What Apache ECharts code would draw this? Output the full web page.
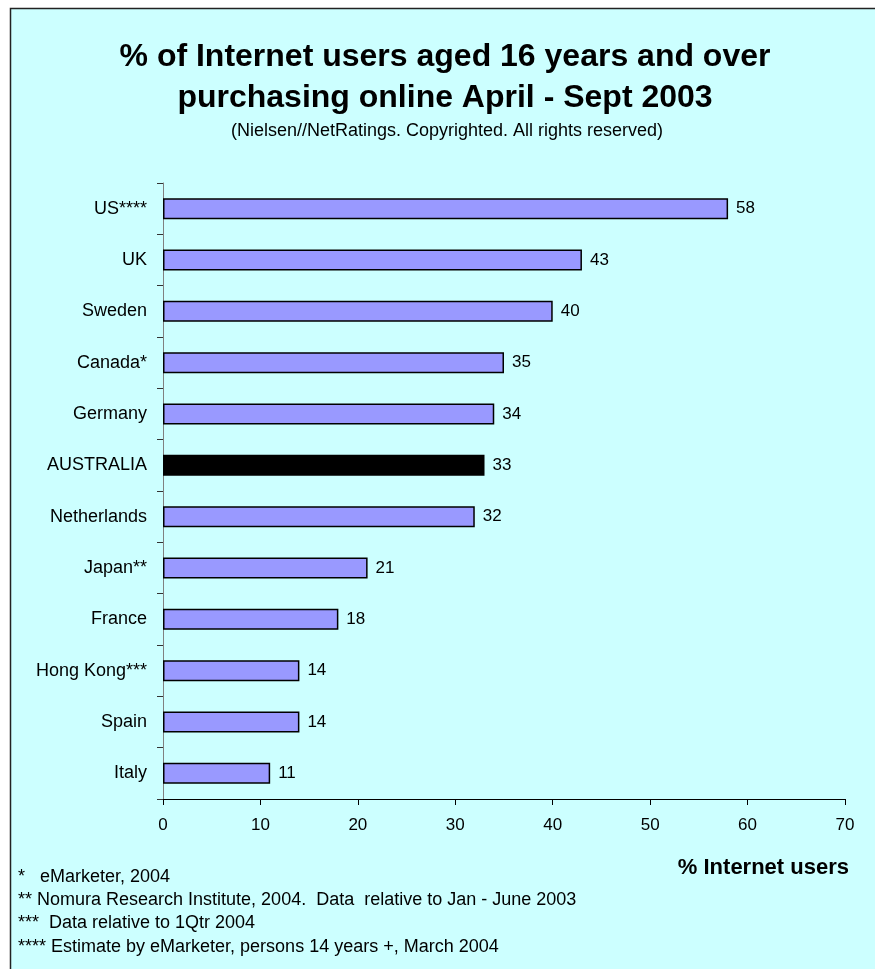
<!DOCTYPE html>
<html>
<head>
<meta charset="utf-8">
<script src="https://cdn.jsdelivr.net/npm/echarts@6/dist/echarts.min.js"></script>
<style>
html,body{margin:0;padding:0;background:#fff;}
#chart{width:875px;height:969px;}
</style>
</head>
<body>
<div id="chart"></div>
<script>
var categories = ['US****','UK','Sweden','Canada*','Germany','AUSTRALIA','Netherlands','Japan**','France','Hong Kong***','Spain','Italy'];
var values = [58,43,40,35,34,33,32,21,18,14,14,11];
var highlight = 'AUSTRALIA';
var titleLines = ['% of Internet users aged 16 years and over','purchasing online April - Sept 2003'];
var subtitle = '(Nielsen//NetRatings. Copyrighted. All rights reserved)';
var axisTitle = '% Internet users';
var footnotes = [
  '*   eMarketer, 2004',
  '** Nomura Research Institute, 2004.  Data  relative to Jan - June 2003',
  '***  Data relative to 1Qtr 2004',
  '**** Estimate by eMarketer, persons 14 years +, March 2004'
];

var FONT = 'Liberation Sans, Arial, sans-serif';
var chart = echarts.init(document.getElementById('chart'), null, {renderer:'canvas'});

var graphics = [
  {type:'rect', shape:{x:10.5,y:8.5,width:900,height:1000}, style:{fill:'#CCFFFF', stroke:'#222', lineWidth:1.5}, z:-10},
  {type:'text', x:445, y:57, style:{text:titleLines[0], font:'bold 32px '+FONT, fill:'#000', align:'center', verticalAlign:'middle'}},
  {type:'text', x:445, y:98, style:{text:titleLines[1], font:'bold 32px '+FONT, fill:'#000', align:'center', verticalAlign:'middle'}},
  {type:'text', x:447, y:131, style:{text:subtitle, font:'18px '+FONT, fill:'#000', align:'center', verticalAlign:'middle'}},
  {type:'text', x:849, y:868, style:{text:axisTitle, font:'bold 22px '+FONT, fill:'#000', align:'right', verticalAlign:'middle'}}
];
var fy = [877, 900, 923, 947];
footnotes.forEach(function(t,i){
  graphics.push({type:'text', x:18, y:fy[i], style:{text:t, font:'18px '+FONT, fill:'#000', align:'left', verticalAlign:'middle'}});
});

chart.setOption({
  animation:false,
  backgroundColor:'#ffffff',
  textStyle:{fontFamily:FONT},
  graphic:graphics,
  grid:{left:163, right:30, top:183, bottom:170, containLabel:false},
  xAxis:{
    type:'value', min:0, max:70, interval:10,
    axisLine:{show:true, lineStyle:{color:'#000', width:1}},
    axisTick:{show:true, length:6, inside:false, lineStyle:{color:'#000'}},
    axisLabel:{color:'#000', fontSize:17, margin:18, fontFamily:FONT},
    splitLine:{show:false}
  },
  yAxis:{
    type:'category', inverse:true, data:categories,
    axisLine:{show:true, lineStyle:{color:'#808080', width:1}},
    axisTick:{show:true, length:6, inside:false, lineStyle:{color:'#333'}},
    axisLabel:{color:'#000', fontSize:18, margin:16, fontFamily:FONT}
  },
  series:[{
    type:'bar',
    data:values,
    barWidth:21,
    itemStyle:{
      color:function(p){ return categories[p.dataIndex]===highlight ? '#000000' : '#9999FF'; },
      borderColor:'#000', borderWidth:1.5
    },
    label:{show:true, position:'right', distance:8, color:'#000', fontSize:17, fontFamily:FONT}
  }]
});
</script>
</body>
</html>
